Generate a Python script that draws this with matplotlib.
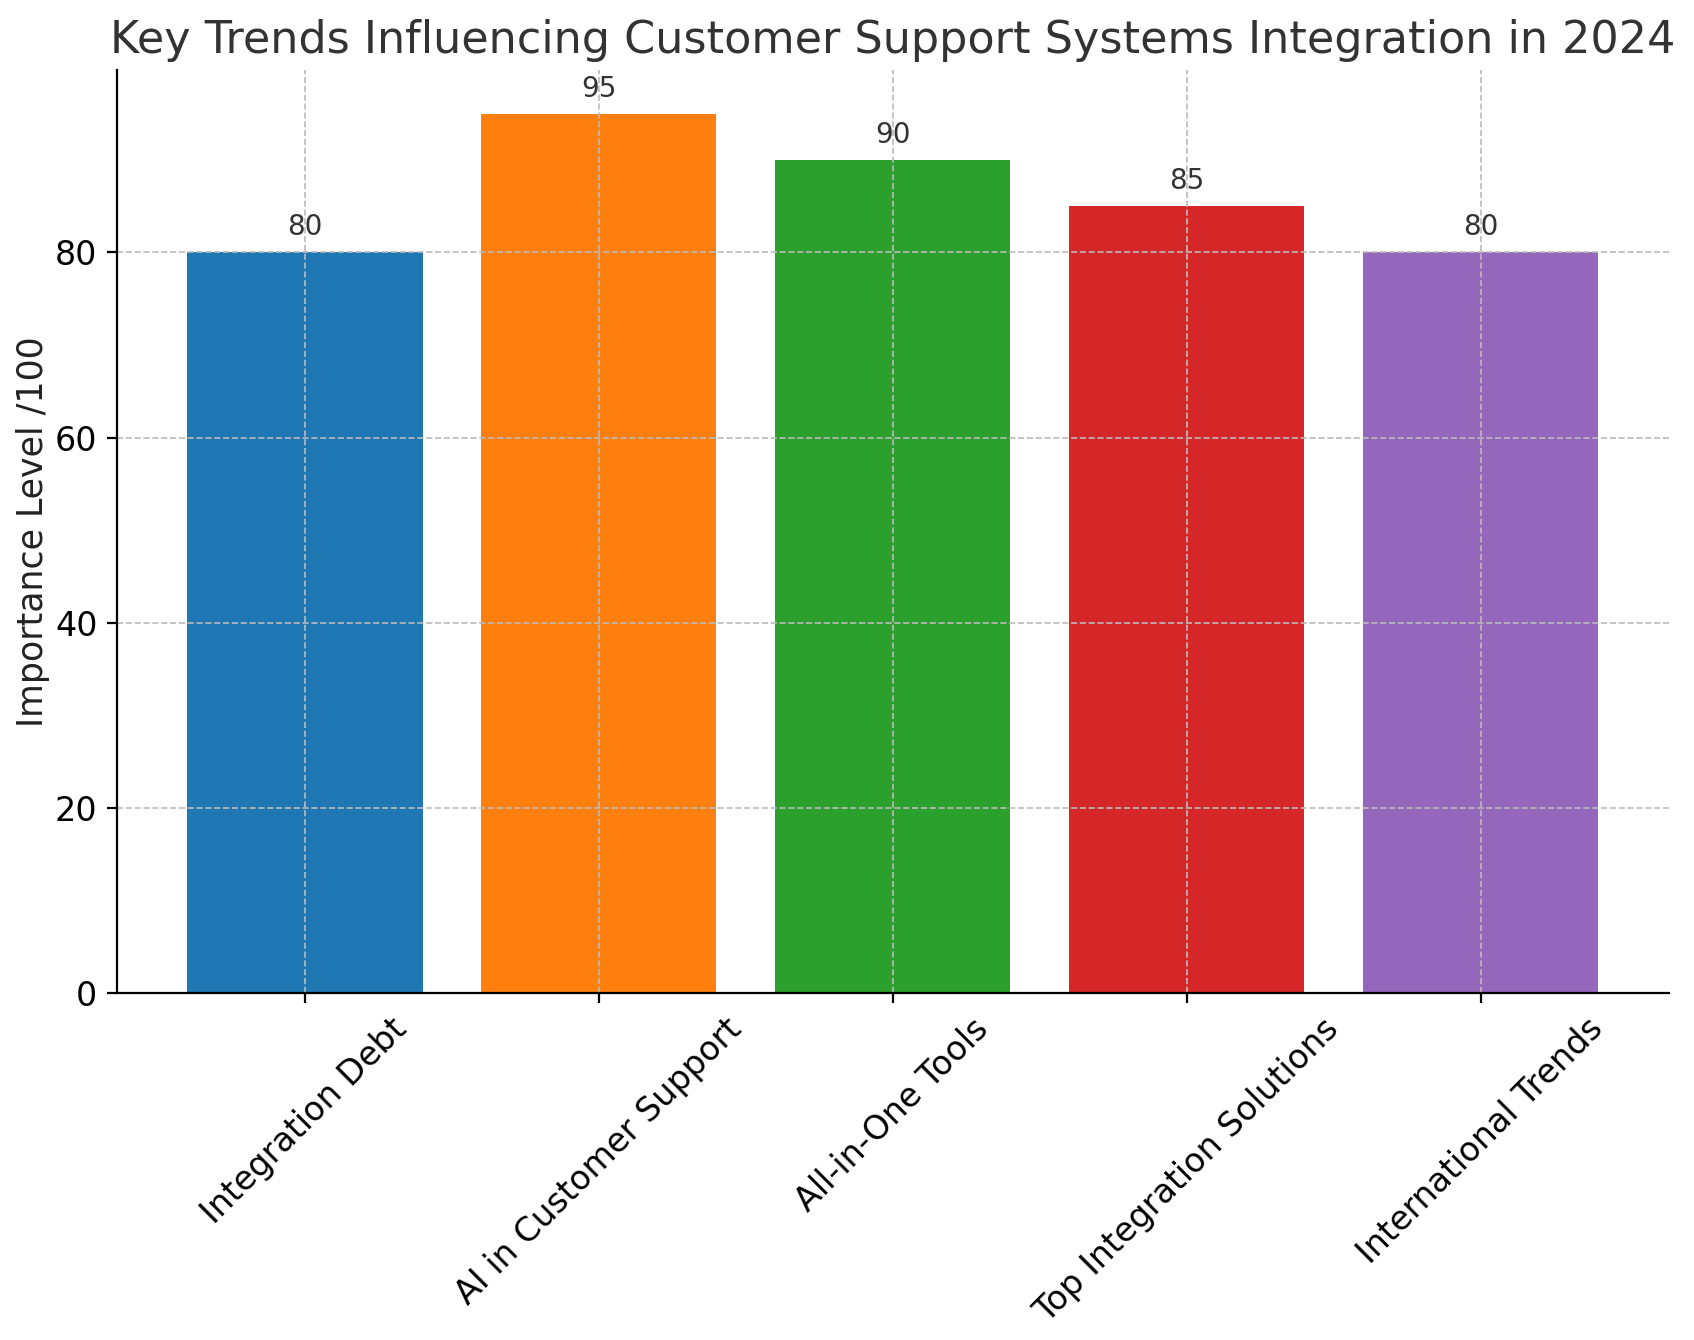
import matplotlib
matplotlib.use("Agg")
import matplotlib.pyplot as plt

categories = ["Integration Debt", "AI in Customer Support", "All-in-One Tools",
              "Top Integration Solutions", "International Trends"]
values = [80, 95, 90, 85, 80]
colors = ["#1f77b4", "#ff7f0e", "#2ca02c", "#d62728", "#9467bd"]

fig = plt.figure(figsize=(8.47, 6.7), dpi=200)
ax = fig.add_axes([0.069, 0.259, 0.916, 0.689])
bars = ax.bar(categories, values, color=colors, width=0.8)
for b, v in zip(bars, values):
    ax.annotate(f"{v}", (b.get_x() + b.get_width() / 2, v), xytext=(0, 4),
                textcoords="offset points", ha="center", va="bottom",
                fontsize=10, color="#333333")
ax.set_title("Key Trends Influencing Customer Support Systems Integration in 2024",
             fontsize=16, color="#333333")
ax.set_ylabel("Importance Level /100", fontsize=12.5, color="#222222")
ax.yaxis.set_label_coords(-0.043, 0.5)
ax.tick_params(axis="both", labelsize=12)
plt.setp(ax.get_xticklabels(), rotation=45, ha="center")
ax.grid(True, linestyle="--", color="#bbbbbb", linewidth=0.6)
for s in ["top", "right"]:
    ax.spines[s].set_visible(False)
fig.savefig("out.png", dpi=200)
